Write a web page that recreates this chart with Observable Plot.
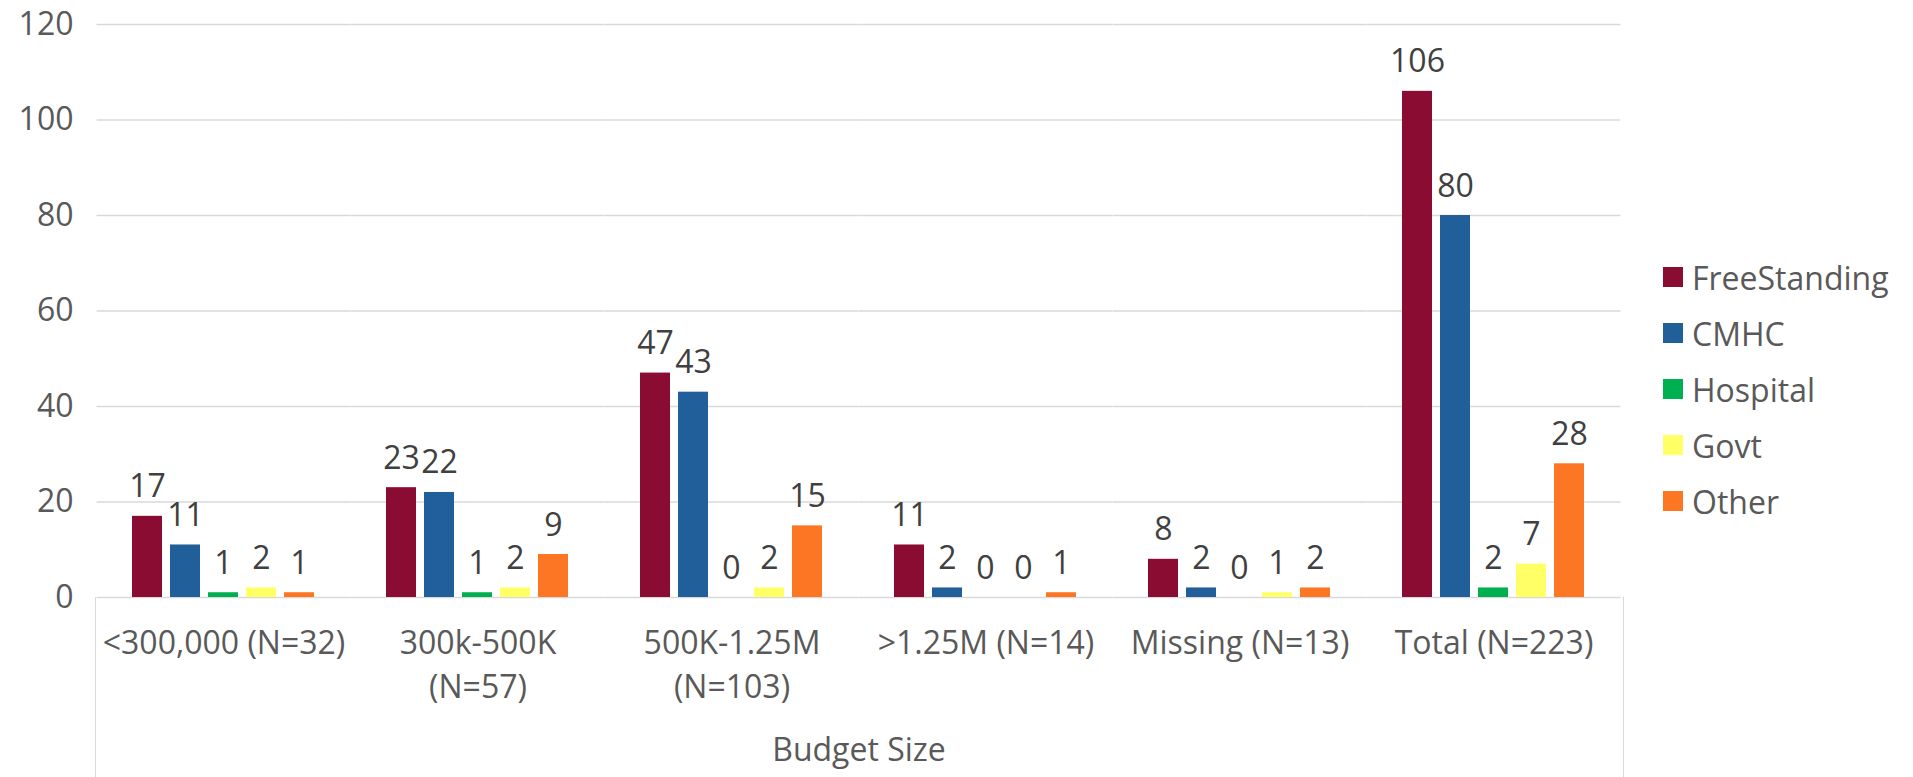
<!DOCTYPE html>
<html><head><meta charset="utf-8">
<script src="https://cdn.jsdelivr.net/npm/d3@7"></script>
<script src="https://cdn.jsdelivr.net/npm/@observablehq/plot@0.6"></script>
<style>
html,body{margin:0;padding:0;background:#fff;}
#wrap{position:relative;width:1913px;height:777px;overflow:hidden;font-family:"Open Sans",sans-serif;}
#wrap svg{position:absolute;left:0;top:0;}
#axisbox{position:absolute;left:95px;top:597px;width:1529px;height:180px;border-left:1.5px solid #d9d9d9;border-right:1.5px solid #d9d9d9;box-sizing:border-box;}
#legend{position:absolute;left:1663px;top:249px;}
.item{display:flex;align-items:center;height:56px;font-size:32px;color:#595959;}
.sw{width:20px;height:20px;margin-right:9px;flex:none;}
</style>
</head><body>
<div id="wrap"><div id="axisbox"></div><div id="legend"></div></div>
<script>
const categories = ["<300k", "300k-500K", "500K-1.25M", ">1.25M", "Missing", "Total"];
const categoryLabels = ["<300,000 (N=32)", "300k-500K\n(N=57)", "500K-1.25M\n(N=103)", ">1.25M (N=14)", "Missing (N=13)", "Total (N=223)"];
const types = ["FreeStanding", "CMHC", "Hospital", "Govt", "Other"];
const freeStanding = [17, 23, 47, 11, 8, 106];
const cmhc = [11, 22, 43, 2, 2, 80];
const hospital = [1, 1, 0, 0, 0, 2];
const govt = [2, 2, 2, 0, 1, 7];
const other = [1, 9, 15, 1, 2, 28];
const typeColors = ["#8B0C32", "#205F99", "#00B050", "#FFFF66", "#FC7623"];
const yTicks = [0, 20, 40, 60, 80, 100, 120];
const axisTitle = "Budget Size";

const series = [freeStanding, cmhc, hospital, govt, other];
const table = [];
categories.forEach((c, i) => types.forEach((t, j) => table.push({category: c, type: t, value: series[j][i]})));
const labelOf = new Map(categories.map((c, i) => [c, categoryLabels[i]]));

const FONT = "'Open Sans', sans-serif";
const chart = Plot.plot({
  width: 1913, height: 777,
  marginLeft: 95, marginRight: 290, marginTop: 24, marginBottom: 180,
  style: {fontFamily: FONT, fontSize: "32px", background: "transparent", overflow: "visible"},
  fx: {domain: categories, paddingInner: 0.27, paddingOuter: 0.135, axis: null},
  x: {domain: types, paddingInner: 0.2, paddingOuter: 0, axis: null},
  y: {domain: [0, 120], axis: null},
  color: {domain: types, range: typeColors},
  marks: [
    Plot.ruleY(yTicks, {stroke: "#d9d9d9", strokeWidth: 1.5, insetLeft: -34.4, insetRight: -34.4}),
    Plot.barY(table, {fx: "category", x: "type", y: "value", fill: "type"}),
    Plot.text(table, {fx: "category", x: "type", y: "value", text: d => String(d.value),
      lineAnchor: "bottom", dy: -19, fontSize: 32, fill: "#404040"}),
    Plot.axisY(yTicks, {tickSize: 0, tickPadding: 58, fontSize: 32, color: "#595959", label: null}),
    Plot.axisFx({anchor: "bottom", tickSize: 0, tickPadding: 26, fontSize: 32, lineHeight: 1.36, color: "#595959",
      tickFormat: c => labelOf.get(c), label: axisTitle, labelAnchor: "center", labelOffset: 163, labelArrow: "none"})
  ]
});
document.getElementById("wrap").prepend(chart);

const legend = document.getElementById("legend");
types.forEach((t, i) => {
  const item = document.createElement("div");
  item.className = "item";
  const sw = document.createElement("span");
  sw.className = "sw";
  sw.style.background = typeColors[i];
  const tx = document.createElement("span");
  tx.textContent = t;
  item.append(sw, tx);
  legend.append(item);
});
</script>
</body></html>
